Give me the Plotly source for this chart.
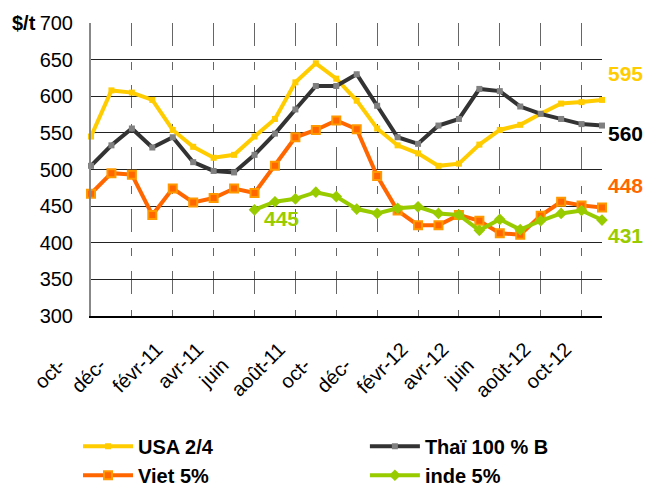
import plotly.graph_objects as go

months = ["oct-10", "nov-10", "déc-10", "janv-11", "févr-11", "mars-11", "avr-11", "mai-11",
          "juin-11", "juil-11", "août-11", "sept-11", "oct-11", "nov-11", "déc-11", "janv-12",
          "févr-12", "mars-12", "avr-12", "mai-12", "juin-12", "juil-12", "août-12", "sept-12",
          "oct-12", "nov-12"]
tick_months = months[::2]
NB = "\u00a0" * 4  # room for the clipped year digits of the truncated labels
tick_labels = ["oct-" + NB, "déc-" + NB, "févr-11", "avr-11", "juin" + NB, "août-11",
               "oct-" + NB, "déc-" + NB, "févr-12", "avr-12", "juin" + NB, "août-12", "oct-12"]

usa = [545, 608, 605, 595, 554, 531, 516, 520, 545, 569, 619, 645, 624, 594, 556, 533,
       522, 505, 508, 534, 554, 561, 576, 590, 592, 595]
thai = [505, 533, 556, 530, 544, 510, 498, 496, 520, 549, 582, 614, 614, 630, 587, 544,
        535, 560, 569, 610, 607, 586, 576, 569, 562, 560]
viet = [467, 495, 493, 438, 474, 455, 461, 474, 468, 505, 544, 554, 567, 555, 491, 444,
        424, 424, 438, 430, 413, 411, 437, 456, 451, 448]
inde = [None] * 8 + [445, 456, 460, 469, 463, 446, 440, 447, 449, 440, 438, 417, 432,
                     418, 430, 440, 444, 431]

y_ticks = [300, 350, 400, 450, 500, 550, 600, 650, 700]

FONT = "Liberation Sans, Arial, sans-serif"
YELLOW = "#FFCC00"
DARK = "#333333"
ORANGE = "#FF6600"
GREEN = "#99CC00"

fig = go.Figure()
fig.add_trace(go.Scatter(x=months, y=usa, name="USA 2/4", mode="lines+markers",
                         line=dict(color=YELLOW, width=4),
                         marker=dict(symbol="square", size=6, color=YELLOW),
                         cliponaxis=False, legend="legend"))
fig.add_trace(go.Scatter(x=months, y=thai, name="Thaï 100 % B", mode="lines+markers",
                         line=dict(color=DARK, width=4),
                         marker=dict(symbol="square", size=6, color="#808080"),
                         cliponaxis=False, legend="legend2"))
fig.add_trace(go.Scatter(x=months, y=viet, name="Viet 5%", mode="lines+markers",
                         line=dict(color=ORANGE, width=4),
                         marker=dict(symbol="square", size=8, color=ORANGE,
                                     line=dict(color="#FF9900", width=2)),
                         cliponaxis=False, legend="legend"))
fig.add_trace(go.Scatter(x=months, y=inde, name="inde 5%", mode="lines+markers",
                         line=dict(color=GREEN, width=4),
                         marker=dict(symbol="diamond", size=9, color=GREEN),
                         cliponaxis=False, legend="legend2"))

# end-of-series value labels
end_labels = [(usa, YELLOW, 26), (thai, "#000000", -8), (viet, ORANGE, 22), (inde, GREEN, -15)]
for series, col, ys in end_labels:
    fig.add_annotation(x=months[-1], y=series[-1], text=f"<b>{series[-1]}</b>",
                       showarrow=False, xanchor="left", yanchor="middle", xshift=4, yshift=ys,
                       font=dict(family=FONT, size=21, color=col))
fig.add_annotation(x=months[8], y=inde[8], text=f"<b>{inde[8]}</b>", showarrow=False,
                   xanchor="left", yanchor="middle", xshift=7, yshift=-9,
                   font=dict(family=FONT, size=21, color=GREEN))
fig.add_annotation(xref="paper", yref="y", x=-0.103, y=700, text="<b>$/t</b>",
                   showarrow=False, xanchor="right", yanchor="middle",
                   font=dict(family=FONT, size=20, color="#000000"))

legend_common = dict(orientation="v", yanchor="top", xanchor="left", itemwidth=50,
                     tracegroupgap=0, bgcolor="rgba(0,0,0,0)",
                     font=dict(family=FONT, size=20, color="#000000", weight="bold"))

fig.update_layout(
    width=645, height=486,
    margin=dict(l=91, r=43, t=23, b=170, autoexpand=False),
    paper_bgcolor="white", plot_bgcolor="white",
    font=dict(family=FONT, color="#000000"),
    showlegend=True,
    legend=dict(x=-0.0254, y=-0.378, **legend_common),
    legend2=dict(x=0.536, y=-0.378, **legend_common),
    xaxis=dict(type="category", range=[0, len(months) - 1],
               tickvals=tick_months, ticktext=tick_labels, tickangle=-45,
               tickfont=dict(family=FONT, size=20, color="#000000"),
               ticklabelstandoff=12, ticklabelshift=-16,
               showgrid=True, gridcolor="#666666", gridwidth=1.3,
               griddash="23px,16px,8px,15px",
               showline=True, linecolor="#000000", linewidth=1.5,
               ticks="", zeroline=False),
    yaxis=dict(range=[300, 700], tickvals=y_ticks,
               tickfont=dict(family=FONT, size=20, color="#000000"),
               showgrid=True, gridcolor="#222222", gridwidth=1,
               showline=True, linecolor="#888888", linewidth=2,
               ticks="", ticklabelstandoff=12, zeroline=False),
)

fig.write_html("out.html", config={"displayModeBar": False},
               post_script="document.body.style.margin='0';")
